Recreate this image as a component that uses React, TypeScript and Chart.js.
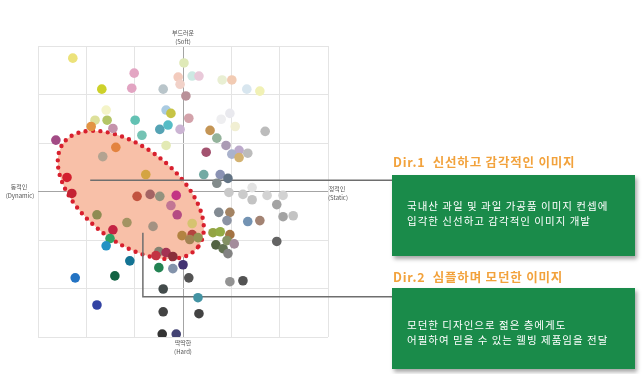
import React, { useEffect, useRef } from "react";
import { Chart, registerables } from "chart.js";

Chart.register(...registerables);

// ---- Data (image positioning map: x = Dynamic(-) ↔ Static(+), y = Hard(-) ↔ Soft(+)) ----
const xValues = [
  -2.28, 0.02, -1.01, -1.06, -1.68, -0.10, -0.06, 0.19, 0.33, 0.81,
  1.01, 1.32, 1.59, -0.41, 0.06, -1.59, -0.35, -0.25, 0.12, 0.79,
  0.97, 1.08, -1.82, -1.57, -1.90, -1.45, -0.99, -0.85, -0.48, -0.31,
  -0.06, 0.56, 1.70, -2.63, -1.39, -0.35, 0.70, 0.89, 0.48, 1.16,
  1.01, 1.16, 1.34, -1.66, -2.40, -0.77, 0.43, 0.77, 0.93, 0.70,
  1.43, 0.95, -2.30, -0.95, -0.68, -0.48, -0.14, -0.25, -0.12, -1.78,
  -1.16, -0.62, 0.19, -1.45, -1.51, -1.59, -0.02, 0.19, 0.14, 0.31,
  0.62, 0.77, 0.97, 0.68, 0.83, 0.91, 1.06, 0.93, -0.50, -0.35,
  -0.21, -0.56, -0.50, -0.21, 0.00, -1.10, -2.23, -1.41, 0.12, -0.41,
  0.31, -1.78, -0.41, 0.33, -0.43, -0.14, 0.74, 0.97, 0.91, 1.34,
  1.59, 1.94, 2.07, 2.28, 1.94, 0.97, 1.24, 1.24, 1.43, 1.74,
  2.07,
];
const yValues = [
  2.75, 2.65, 2.44, 2.13, 2.11, 2.36, 2.21, 2.38, 2.38, 2.30,
  2.30, 2.11, 2.07, 2.11, 1.97, 1.68, 1.68, 1.61, 1.51, 1.49,
  1.61, 1.34, 1.47, 1.47, 1.34, 1.30, 1.47, 1.16, 1.28, 1.37,
  1.28, 1.26, 1.24, 1.06, 0.91, 0.95, 1.10, 0.95, 0.81, 0.85,
  0.77, 0.70, 0.79, 0.72, 0.29, 0.35, 0.35, 0.35, 0.27, 0.17,
  0.08, -0.02, -0.04, -0.10, -0.06, -0.10, -0.08, -0.29, -0.48, -0.48,
  -0.64, -0.72, -0.66, -0.79, -0.97, -1.12, -0.91, -0.89, -0.99, -0.95,
  -0.85, -0.83, -0.89, -1.10, -1.18, -1.01, -1.08, -1.28, -1.24, -1.26,
  -1.34, -1.32, -1.57, -1.59, -1.51, -1.43, -1.78, -1.74, -1.78, -2.01,
  -2.19, -2.34, -2.48, -2.52, -2.94, -2.94, -0.43, -0.43, -0.60, -0.62,
  -0.60, -0.27, -0.52, -0.50, -1.03, -1.86, -1.84, -0.06, -0.17, -0.08,
  -0.08,
];
const pointColors = [
  "#ece27a", "#dfe9b8", "#e3a6c3", "#e2a4c2", "#cdd12a", "#f3cbbd", "#f1d1c8", "#cde9e3", "#e9c9d9", "#e9efd3",
  "#f2cbb3", "#d8e6ef", "#f1f1b5", "#b9c5ca", "#b99199", "#f4f4c8", "#aacbe2", "#c7c445", "#d3a2aa", "#eeeef0",
  "#e9e9ee", "#f1efd3", "#dde09a", "#b4c566", "#e39443", "#c493ab", "#62c1b3", "#74c3b4", "#55a3b4", "#55bcc6",
  "#cbb4d3", "#c49555", "#bcbcbc", "#a24b85", "#e3833f", "#e3eab4", "#93b39b", "#ab9bb4", "#a3526f", "#bcaacb",
  "#aab2cc", "#d3b271", "#bcbcbc", "#b3a391", "#d3202f", "#d4a443", "#72aaa3", "#8a92b3", "#627384", "#838b8b",
  "#e3e3e3", "#c9c9c9", "#c42233", "#c2533f", "#a46464", "#93937f", "#c33584", "#c27694", "#b44c83", "#8e8c53",
  "#a39363", "#a39282", "#d6c370", "#c42343", "#2fa264", "#2392c3", "#b38342", "#b4443f", "#a38353", "#939353",
  "#93a444", "#93ab45", "#a37343", "#536343", "#637353", "#839163", "#a38b9b", "#838383", "#838373", "#a33353",
  "#8a2f3a", "#c33343", "#238353", "#8393ab", "#433373", "#137393", "#2373c3", "#136343", "#535353", "#434b4b",
  "#4393a3", "#3343a3", "#434343", "#434343", "#333333", "#434373", "#838b93", "#a38363", "#8b93a3", "#7393b3",
  "#a38373", "#a3a3a3", "#a3a3a3", "#c3c3c3", "#636363", "#939393", "#535353", "#cbcbcb", "#c3c3c3", "#d3d3d3",
  "#d3d3d3",
];

const axisTopLabel = ["부드러운", "(Soft)"];
const axisBottomLabel = ["딱딱한", "(Hard)"];
const axisLeftLabel = ["동적인", "(Dynamic)"];
const axisRightLabel = ["정적인", "(Static)"];

// highlighted cluster (data units): centre, semi-axes, tilt in degrees
const clusterCenter = [-1.08, -0.07];
const clusterAxes = [1.76, 0.97];
const clusterTilt = 38;

// callout anchors (data units)
const callout1Start = [-1.92, 0.23];
const callout2Start = [-0.83, -0.85];
const callout2Bottom = -2.17;

const dir1Title = "Dir.1  신선하고 감각적인 이미지";
const dir1Lines = ["국내산 과일 및 과일 가공품 이미지 컨셉에", "입각한 신선하고 감각적인 이미지 개발"];
const dir2Title = "Dir.2  심플하며 모던한 이미지";
const dir2Lines = ["모던한 디자인으로 젊은 층에게도", "어필하여 믿을 수 있는 웰빙 제품임을 전달"];

const BOX_LEFT = 392;
const FONT = "'Noto Sans CJK KR', 'Noto Sans', sans-serif";

const decorPlugin = {
  id: "mapDecor",
  beforeDatasetsDraw(chart: any) {
    const { ctx, scales } = chart;
    const x = scales.x;
    const y = scales.y;
    const ux = x.getPixelForValue(1) - x.getPixelForValue(0);
    const uy = y.getPixelForValue(0) - y.getPixelForValue(1);
    const cx = x.getPixelForValue(clusterCenter[0]);
    const cy = y.getPixelForValue(clusterCenter[1]);
    ctx.save();
    ctx.beginPath();
    ctx.ellipse(cx, cy, clusterAxes[0] * ux, clusterAxes[1] * uy, (clusterTilt * Math.PI) / 180, 0, Math.PI * 2);
    ctx.fillStyle = "#f8c0a8";
    ctx.fill();
    ctx.setLineDash([0, 7.4]);
    ctx.lineCap = "round";
    ctx.lineWidth = 4.4;
    ctx.strokeStyle = "#d8202e";
    ctx.stroke();
    ctx.setLineDash([]);

    // callout connectors
    ctx.strokeStyle = "#6e6e6e";
    ctx.lineWidth = 1.5;
    ctx.lineCap = "butt";
    const l1x = x.getPixelForValue(callout1Start[0]);
    const l1y = y.getPixelForValue(callout1Start[1]);
    ctx.beginPath();
    ctx.moveTo(l1x, l1y);
    ctx.lineTo(BOX_LEFT, l1y);
    ctx.stroke();
    const l2x = x.getPixelForValue(callout2Start[0]);
    const l2y = y.getPixelForValue(callout2Start[1]);
    const l2b = y.getPixelForValue(callout2Bottom);
    ctx.beginPath();
    ctx.moveTo(l2x, l2y);
    ctx.lineTo(l2x, l2b);
    ctx.lineTo(BOX_LEFT, l2b);
    ctx.stroke();
    ctx.restore();
  },
  afterDraw(chart: any) {
    const { ctx, chartArea } = chart;
    const x = chart.scales.x;
    const y = chart.scales.y;
    const mx = x.getPixelForValue(0);
    const my = y.getPixelForValue(0);
    ctx.save();
    ctx.fillStyle = "#555";
    ctx.font = `6px ${FONT}`;
    ctx.textAlign = "center";
    ctx.textBaseline = "middle";
    ctx.fillText(axisTopLabel[0], mx, chartArea.top - 13);
    ctx.fillText(axisTopLabel[1], mx, chartArea.top - 4);
    ctx.fillText(axisBottomLabel[0], mx, chartArea.bottom + 6);
    ctx.fillText(axisBottomLabel[1], mx, chartArea.bottom + 15);
    ctx.fillText(axisLeftLabel[0], chartArea.left - 19, my - 5);
    ctx.fillText(axisLeftLabel[1], chartArea.left - 18, my + 4);
    ctx.fillText(axisRightLabel[0], chartArea.right + 9, my - 3);
    ctx.fillText(axisRightLabel[1], chartArea.right + 10, my + 6);
    ctx.restore();
  },
};

function CalloutBox(props: { title: string; lines: string[]; titleTop: number; boxTop: number; padTop: number }) {
  return (
    <>
      <div
        style={{
          position: "absolute",
          left: 393,
          top: props.titleTop,
          fontFamily: FONT,
          fontWeight: 700,
          fontSize: 12.5,
          letterSpacing: "0.8px",
          lineHeight: "15px",
          color: "#f2a23c",
          whiteSpace: "pre",
        }}
      >
        {props.title}
      </div>
      <div
        style={{
          position: "absolute",
          left: BOX_LEFT,
          top: props.boxTop,
          width: 243,
          height: 81,
          background: "#1a8b4a",
          boxShadow: "2px 3px 4px rgba(0,0,0,0.35)",
          boxSizing: "border-box",
          paddingLeft: 15,
          paddingTop: props.padTop,
          fontFamily: FONT,
          fontSize: 10.5,
          letterSpacing: "1px",
          lineHeight: "15px",
          color: "#ffffff",
        }}
      >
        {props.lines.map((l, i) => (
          <div key={i} style={{ whiteSpace: "pre" }}>
            {l}
          </div>
        ))}
      </div>
    </>
  );
}

export default function App() {
  const canvasRef = useRef<HTMLCanvasElement | null>(null);

  useEffect(() => {
    if (!canvasRef.current) return;
    const points = xValues.map((v, i) => ({ x: v, y: yValues[i] }));
    const gridColor = (c: any) => (c.tick && c.tick.value === 0 ? "#a4a4a4" : "#e4e4e4");
    const chart = new Chart(canvasRef.current, {
      type: "scatter",
      data: {
        datasets: [
          {
            data: points,
            backgroundColor: pointColors,
            borderWidth: 0,
            pointRadius: 4.8,
            pointHoverRadius: 4.8,
          },
        ],
      },
      options: {
        animation: false,
        responsive: true,
        maintainAspectRatio: false,
        layout: { padding: { left: 38, top: 46, right: 315, bottom: 37 } },
        plugins: { legend: { display: false }, tooltip: { enabled: false } },
        scales: {
          x: {
            type: "linear",
            min: -3,
            max: 3,
            ticks: { display: false, stepSize: 1 },
            grid: { color: gridColor, drawTicks: false, lineWidth: 1 },
            border: { display: false },
          },
          y: {
            type: "linear",
            min: -3,
            max: 3,
            ticks: { display: false, stepSize: 1 },
            grid: { color: gridColor, drawTicks: false, lineWidth: 1 },
            border: { display: false },
          },
        },
      },
      plugins: [decorPlugin],
    });
    return () => chart.destroy();
  }, []);

  return (
    <div style={{ position: "absolute", left: 0, top: 0, width: 643, height: 374, background: "#fff", overflow: "hidden" }}>
      <canvas ref={canvasRef} style={{ display: "block" }} />
      <CalloutBox title={dir1Title} lines={dir1Lines} titleTop={154} boxTop={175} padTop={23} />
      <CalloutBox title={dir2Title} lines={dir2Lines} titleTop={269} boxTop={288} padTop={29} />
    </div>
  );
}
